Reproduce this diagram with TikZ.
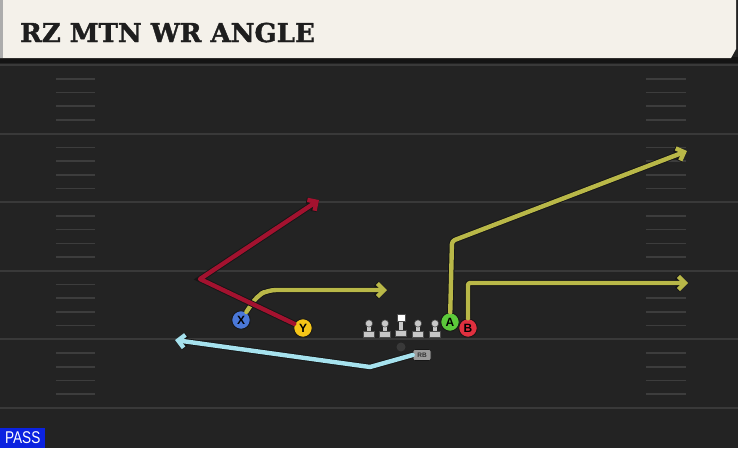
\documentclass[tikz,border=0pt]{standalone}
\usepackage{fontspec}
\usepackage{tikz}
\usetikzlibrary{arrows.meta}
\newfontfamily\titlefont{DejaVu Serif}[BoldFont={DejaVu Serif Bold},BoldFeatures={FakeBold=1.5}]
\newfontfamily\tagfont{Liberation Sans}
\definecolor{fieldbg}{HTML}{232323}
\definecolor{fieldline}{HTML}{393939}
\definecolor{hashgrey}{HTML}{3D3D3D}
\definecolor{headercream}{HTML}{F4F1EA}
\definecolor{titleink}{HTML}{1E1E1E}
\definecolor{routeedge}{HTML}{161616}
\definecolor{postred}{HTML}{A3122F}
\definecolor{flatolive}{HTML}{B9B848}
\definecolor{wheelblue}{HTML}{A6E2EE}
\definecolor{xblue}{HTML}{4A78D8}
\definecolor{yyellow}{HTML}{F5C518}
\definecolor{agreen}{HTML}{5CC93A}
\definecolor{bred}{HTML}{E0303F}
\definecolor{linegrey}{HTML}{C8C8C8}
\definecolor{rbgrey}{HTML}{9C9C9C}
\definecolor{passblue}{HTML}{0B22E0}

\begin{document}
\begin{tikzpicture}[x=1pt,y=-1pt,
  yardline/.style={draw=fieldline,line width=2pt},
  hashmark/.style={draw=hashgrey,line width=1.6pt},
  route/.style={line width=4.4pt,line join=round,line cap=round,
    -{Straight Barb[length=6.5pt,width=13pt]},
    preaction={draw=routeedge,line width=6.2pt}},
  player/.style={circle,draw=routeedge,line width=0.9pt,minimum size=18.5pt,
    inner sep=0pt,font=\tagfont\bfseries\fontsize{12}{12}\selectfont}]
 \useasboundingbox (0,0) rectangle (738,448);
 \fill[fieldbg] (0,0) rectangle (738,448);
 % field
 \foreach \y in {65,133.6,202.2,270.8,339.4,408}
   \draw[yardline] (0,\y) -- (738,\y);
 \foreach \y in {65,133.6,202.2,270.8,339.4}
   \foreach \k in {1,...,4} {
     \draw[hashmark] (56,{\y+\k*13.72}) -- (95,{\y+\k*13.72});
     \draw[hashmark] (646,{\y+\k*13.72}) -- (686,{\y+\k*13.72});
   }
 % header
 \fill[black!92] (0,57) rectangle (738,63);
 \fill[headercream] (0,0) -- (736,0) -- (736,49) -- (731,58) -- (0,58) -- cycle;
 \fill[gray!65] (0,0) rectangle (3,58);
 \node[anchor=base west,inner sep=0pt,text=titleink,
   font=\titlefont\bfseries\fontsize{26}{26}\selectfont] (title) at (20,42) {RZ MTN WR ANGLE};

 % line
 \foreach \x in {369,385,418,435} {
   \fill[linegrey,draw=black!70,line width=0.5pt] (\x-5.5,331) rectangle (\x+5.5,337);
   \fill[linegrey] (\x-2.2,325) rectangle (\x+2.2,331);
   \fill[linegrey,draw=black!70,line width=0.5pt] (\x,323.5) circle (3.6);
 }
 \fill[linegrey,draw=black!70,line width=0.5pt] (395.5,330) rectangle (406.5,336);
 \fill[linegrey] (398.8,321) rectangle (403.2,330);
 \fill[white,draw=black!70,line width=0.5pt] (397,314) rectangle (405,321);
 \node[circle,fill=gray!45!black,minimum size=9pt,inner sep=0pt] (QB) at (401,347) {};
 \node[rounded corners=2pt,fill=rbgrey,draw=routeedge,line width=0.6pt,
   minimum width=18pt,minimum height=11pt,inner sep=0pt,text=black!80,
   font=\tagfont\bfseries\fontsize{6.5}{6.5}\selectfont] (RB) at (422,355) {RB};

 % players
 \node[player,fill=xblue] (X) at (241,320) {X};
 \node[player,fill=yyellow] (Y) at (303,328) {Y};
 \node[player,fill=agreen] (A) at (450,322) {A};
 \node[player,fill=bred] (B) at (468,328) {B};

 % routes
 \draw[route,draw=wheelblue] (RB.west) -- (370,367) -- (175,340);
 \draw[route,draw=flatolive,rounded corners=8pt] (X) -- (257,296) -- (268,290) -- (387,290);
 \draw[route,draw=postred] (Y) -- (200,279) -- (319,200);
 \draw[route,draw=flatolive,rounded corners=3pt] (A) -- (452,241) -- (687,151);
 \draw[route,draw=flatolive,rounded corners=2pt] (B) -- (468,283) -- (688,283);

 \node[anchor=south west,fill=passblue,text=white,minimum width=45pt,
   minimum height=20pt,inner sep=0pt,
   font=\tagfont\fontsize{17}{17}\selectfont] (play) at (0,448) {\scalebox{0.8}[1]{PASS}};
\end{tikzpicture}
\end{document}
